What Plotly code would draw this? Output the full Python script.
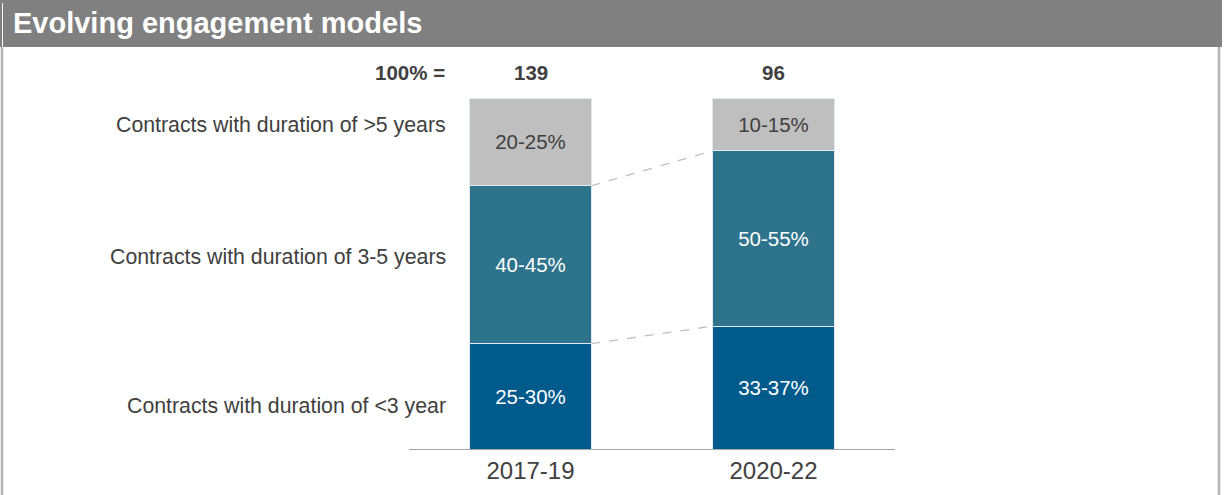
import plotly.graph_objects as go

# ---- data ----
periods = ["2017-19", "2020-22"]
totals = ["139", "96"]
segments = ["Contracts with duration of <3 year",
            "Contracts with duration of 3-5 years",
            "Contracts with duration of >5 years"]
short_share = [30, 35]
mid_share = [45, 50]
long_share = [25, 15]
short_labels = ["25-30%", "33-37%"]
mid_labels = ["40-45%", "50-55%"]
long_labels = ["20-25%", "10-15%"]

# ---- styling / layout ----
W, H = 1226, 495
ML, MR, MT, MB = 409, 331, 98, 46
PW = W - ML - MR
PH = H - MT - MB
FONT = "Liberation Sans, Arial, sans-serif"
DARK = "#404040"
colors = ["#005A8C", "#2E738C", "#BFBFBF"]
text_colors = ["white", "white", DARK]


def pxx(x):
    return (x - ML) / PW


def pxy(y):
    return (H - MB - y) / PH


fig = go.Figure()
series = [(short_share, short_labels), (mid_share, mid_labels), (long_share, long_labels)]
for i, (vals, labs) in enumerate(series):
    fig.add_trace(go.Bar(
        x=list(range(len(periods))), y=vals, text=labs, name=segments[i],
        width=0.5,
        marker=dict(color=colors[i], line=dict(color="#E3EAEF", width=1)),
        textposition="inside", insidetextanchor="middle", textangle=0,
        textfont=dict(family=FONT, size=20.5, color=text_colors[i]),
        hoverinfo="skip", showlegend=False,
    ))

shapes = []
# connector lines between bars
cum1 = [short_share[0], short_share[0] + mid_share[0]]
cum2 = [short_share[1], short_share[1] + mid_share[1]]
for a, b in zip(cum1, cum2):
    shapes.append(dict(type="line", xref="x", yref="y", x0=0.25, x1=0.75, y0=a, y1=b,
                       line=dict(color="#BFBFBF", width=1.3, dash="dash")))

# header bar and frame
shapes.append(dict(type="rect", xref="paper", yref="paper", x0=pxx(0), x1=pxx(1222),
                   y0=pxy(47), y1=pxy(0), fillcolor="#808080", line=dict(width=0), layer="below"))
shapes.append(dict(type="line", xref="paper", yref="paper", x0=pxx(2.5), x1=pxx(2.5),
                   y0=pxy(47), y1=pxy(3), line=dict(color="white", width=1)))
shapes.append(dict(type="line", xref="paper", yref="paper", x0=pxx(2), x1=pxx(2),
                   y0=pxy(47), y1=pxy(495), line=dict(color="#B4B4B4", width=2.5)))
shapes.append(dict(type="line", xref="paper", yref="paper", x0=pxx(1219), x1=pxx(1219),
                   y0=pxy(47), y1=pxy(495), line=dict(color="#B4B4B4", width=2.5)))

annotations = []
annotations.append(dict(text="<b>Evolving engagement models</b>", xref="paper", yref="paper",
                        x=pxx(11), y=pxy(23), xanchor="left", yanchor="middle", showarrow=False,
                        font=dict(family=FONT, size=29, color="white")))
# left segment labels
label_y = [12.3, 54.7, 92.3]
for name, yv in zip(segments, label_y):
    annotations.append(dict(text=name, xref="paper", yref="y", x=pxx(447.5), y=yv,
                            xanchor="right", yanchor="middle", showarrow=False,
                            font=dict(family=FONT, size=21.3, color=DARK)))
# totals row
annotations.append(dict(text="<b>100% =</b>", xref="paper", yref="paper", x=pxx(447), y=pxy(73),
                        xanchor="right", yanchor="middle", showarrow=False,
                        font=dict(family=FONT, size=20.5, color=DARK)))
for i, t in enumerate(totals):
    annotations.append(dict(text=f"<b>{t}</b>", xref="x", yref="paper", x=i, y=pxy(73),
                            xanchor="center", yanchor="middle", showarrow=False,
                            font=dict(family=FONT, size=20.5, color=DARK)))

fig.update_layout(
    width=W, height=H, barmode="stack",
    margin=dict(l=ML, r=MR, t=MT, b=MB, pad=0),
    paper_bgcolor="white", plot_bgcolor="white",
    xaxis=dict(range=[-0.5, 1.5], tickvals=list(range(len(periods))), ticktext=periods,
               showline=True, linecolor="#A6A6A6", linewidth=1.3, showgrid=False, zeroline=False,
               ticks="", tickfont=dict(family=FONT, size=24, color=DARK), fixedrange=True),
    yaxis=dict(range=[0, 100], visible=False, fixedrange=True),
    shapes=shapes, annotations=annotations,
)

fig.write_html("out.html", config={"displayModeBar": False},
               post_script="document.body.style.margin='0';")
